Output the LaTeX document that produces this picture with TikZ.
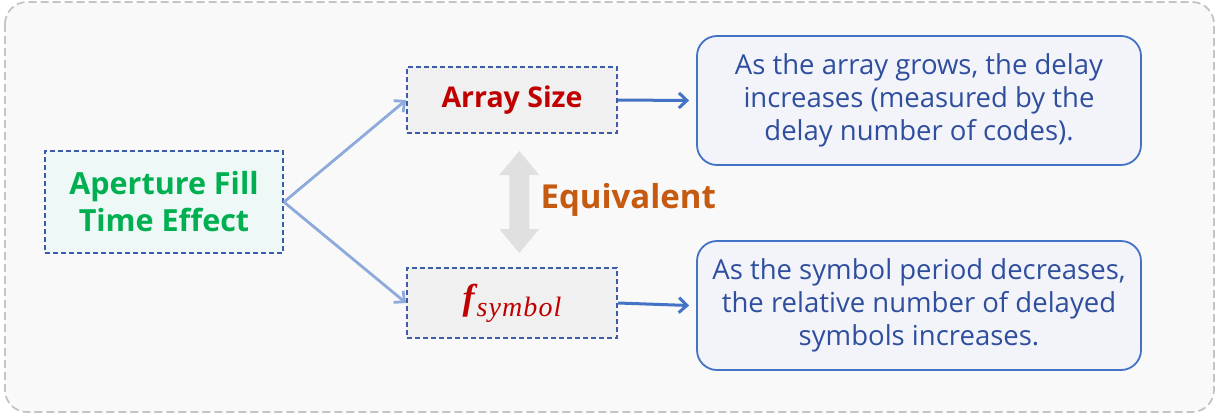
\documentclass[tikz,border=0pt]{standalone}
\usepackage{fontspec}
\setmainfont{Open Sans}
\newfontfamily\symfamily{Liberation Serif}
\usetikzlibrary{arrows.meta}

\definecolor{framegray}{HTML}{C4C4C4}
\definecolor{bggray}{HTML}{F9F9F9}
\definecolor{dashblue}{HTML}{3B5CAB}
\definecolor{lightcyan}{HTML}{EEF8F7}
\definecolor{boxgray}{HTML}{F0F0F0}
\definecolor{effgreen}{HTML}{00B050}
\definecolor{darkred}{HTML}{C00000}
\definecolor{eqorange}{HTML}{C55A11}
\definecolor{paleblue}{HTML}{8EA9DB}
\definecolor{linkblue}{HTML}{4472C4}
\definecolor{notefill}{HTML}{F2F4FA}
\definecolor{notetext}{HTML}{2F4E9E}
\definecolor{eqgray}{HTML}{E0E0E0}

\newcommand{\fsymlabel}{{\symfamily\itshape
    {\bfseries\fontsize{36}{40}\selectfont f}\kern2pt\raisebox{-7pt}{\fontsize{28}{30}\selectfont\addfontfeature{LetterSpace=4}symbol}}}

\begin{document}
\begin{tikzpicture}[x=1pt, y=-1pt,
    factor/.style={draw=dashblue, fill=boxgray, dash pattern=on 5pt off 3pt,
        line width=1.8pt, minimum width=210pt, minimum height=66pt, inner sep=0pt},
    note/.style={draw=linkblue, fill=notefill, rounded corners=20pt, line width=1.8pt,
        minimum width=444pt, minimum height=129pt, align=center, text=notetext,
        font=\fontsize{27.5}{33}\selectfont},
    fan/.style={draw=paleblue, line width=2.8pt, -{Straight Barb[length=8pt, width=15pt]}},
    link/.style={draw=linkblue, line width=3pt, -{Straight Barb[length=8pt, width=15pt]}}]
    \useasboundingbox (0, 0) rectangle (1219, 416);

    \coordinate (E) at (164, 202);
    \coordinate (S) at (512, 100);
    \coordinate (F) at (512, 303);
    \coordinate (N1) at (919, 100.5);
    \coordinate (N2) at (919, 305.5);

    % outer frame
    \draw [framegray, fill=bggray, line width=1.8pt, dash pattern=on 8pt off 4pt,
        rounded corners=22pt] (5, 2) rectangle (1214, 412);

    \node [draw=dashblue, fill=lightcyan, dash pattern=on 5pt off 3pt, line width=1.8pt,
        minimum width=238pt, minimum height=102pt, align=center, text=effgreen,
        font=\bfseries\fontsize{30.5}{37}\selectfont] (effect) at (E)
        {Aperture Fill\\Time Effect};

    \node [factor, text=darkred, font=\bfseries\fontsize{28.5}{33}\selectfont] (size) at (S)
        {Array Size};
    \node [factor, minimum height=70pt, text=darkred] (fsym) at (F)
        {\fsymlabel};

    \node [note] (grow) at (N1)
        {As the array grows, the delay\\increases (measured by the\\delay number of codes).};
    \node [note] (period) at (N2)
        {As the symbol period decreases,\\the relative number of delayed\\symbols increases.};

    % two-headed arrow between the factors
    \fill [eqgray] (519.3, 151) -- (539.3, 175) -- (529.3, 175) -- (529.3, 229)
        -- (539.3, 229) -- (519.3, 253) -- (499.3, 229) -- (509.3, 229)
        -- (509.3, 175) -- (499.3, 175) -- cycle;
    \node [anchor=west, text=eqorange, font=\bfseries\fontsize{33}{38}\selectfont] (eqlabel)
        at (537, 200) {Equivalent};

    \draw [fan] (effect.east) -- (size.west);
    \draw [fan] (effect.east) -- (fsym.west);
    \draw [link] (size.east) -- ([xshift=-7pt]grow.west);
    \draw [link] (fsym.east) -- ([xshift=-7pt]period.west);
\end{tikzpicture}
\end{document}
